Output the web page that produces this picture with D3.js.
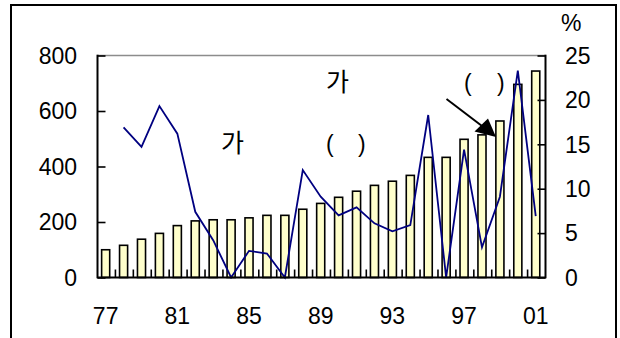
<!DOCTYPE html>
<html>
<head>
<meta charset="utf-8">
<script src="https://cdn.jsdelivr.net/npm/d3@7"></script>
<style>
  html, body { margin: 0; padding: 0; background: #fff; }
  svg { display: block; }
  text { font-family: "Liberation Sans", Arial, sans-serif; font-size: 23px; fill: #000; }
  .kr { font-family: "Noto Sans CJK KR", "Liberation Sans", sans-serif; font-size: 25px; }
</style>
</head>
<body>
<svg id="chart" width="620" height="338"></svg>
<script>
// Years (two-digit labels) and the two series
const years = ["77","78","79","80","81","82","83","84","85","86","87","88","89",
               "90","91","92","93","94","95","96","97","98","99","00","01"];
// Bar series, left axis
const amounts = [100,116,138,159,187,204,208,208,215,224,224,246,267,
                 289,311,332,347,368,433,433,498,514,564,696,744];
// Line series (growth rate, %), right axis; no value for the first year
const rates = [null,16.9,14.7,19.3,16.2,7.4,4.2,0,3.0,2.7,0,12.1,9.1,
               7.0,7.9,6.1,5.2,5.9,18.3,0,14.4,3.4,9.1,23.3,6.9];
const xTickLabels = ["77","81","85","89","93","97","01"];
const leftTicks = [0,200,400,600,800];
const rightTicks = [0,5,10,15,20,25];

const svg = d3.select("#chart");
const L = 97.5, R = 545.5, T = 55.5, B = 277.5;

// outer frame
svg.append("rect")
  .attr("x", 11).attr("y", 5).attr("width", 605).attr("height", 345)
  .attr("fill", "none").attr("stroke", "#000").attr("stroke-width", 2);

const x = d3.scaleBand().domain(years).range([L, R]).paddingInner(0.55).paddingOuter(0.275);
const yL = d3.scaleLinear().domain([0, 800]).range([B, T]);
const yR = d3.scaleLinear().domain([0, 25]).range([B, T]);

// top gridline
svg.append("line")
  .attr("x1", L).attr("x2", R).attr("y1", yL(800)).attr("y2", yL(800))
  .attr("stroke", "#8c8c8c").attr("stroke-width", 1.5);

// bars
svg.append("g").selectAll("rect")
  .data(years.map((y, i) => ({ year: y, v: amounts[i] })))
  .join("rect")
  .attr("x", d => x(d.year) - 0.8)
  .attr("y", d => yL(d.v))
  .attr("width", x.bandwidth())
  .attr("height", d => B - yL(d.v))
  .attr("fill", "#ffffcc")
  .attr("stroke", "#000")
  .attr("stroke-width", 1.6);

// growth-rate line
const lineData = years.map((y, i) => ({ year: y, v: rates[i] })).filter(d => d.v !== null);
svg.append("path")
  .datum(lineData)
  .attr("fill", "none")
  .attr("stroke", "#000080")
  .attr("stroke-width", 1.8)
  .attr("stroke-linejoin", "miter")
  .attr("d", d3.line().x(d => x(d.year) + x.bandwidth() / 2 - 0.8).y(d => yR(d.v)));

// left axis
const axL = svg.append("g").attr("transform", `translate(${L},0)`)
  .call(d3.axisRight(yL).tickValues(leftTicks).tickSize(8).tickFormat(""));
axL.select(".domain").remove();
axL.selectAll("line").attr("stroke", "#000").attr("stroke-width", 1.6);
svg.append("line").attr("x1", L).attr("x2", L).attr("y1", T - 0.8).attr("y2", B + 0.8)
  .attr("stroke", "#000").attr("stroke-width", 2);
svg.append("g").selectAll("text").data(leftTicks).join("text")
  .attr("x", 77).attr("y", d => yL(d)).attr("dy", "0.36em")
  .attr("text-anchor", "end").text(d => d);

// right axis
const axR = svg.append("g").attr("transform", `translate(${R},0)`)
  .call(d3.axisLeft(yR).tickValues(rightTicks).tickSize(8).tickFormat(""));
axR.select(".domain").remove();
axR.selectAll("line").attr("stroke", "#000").attr("stroke-width", 1.6);
svg.append("line").attr("x1", R).attr("x2", R).attr("y1", T - 0.8).attr("y2", B + 0.8)
  .attr("stroke", "#000").attr("stroke-width", 2);
svg.append("g").selectAll("text").data(rightTicks).join("text")
  .attr("x", 565).attr("y", d => yR(d)).attr("dy", "0.36em")
  .attr("text-anchor", "start").text(d => d);
svg.append("text").attr("x", 561).attr("y", 31).text("%");

// bottom axis with ticks at category boundaries
const step = x.step();
svg.append("g").selectAll("line").data(years.slice(1)).join("line")
  .attr("x1", d => x(d) - (step - x.bandwidth()) / 2)
  .attr("x2", d => x(d) - (step - x.bandwidth()) / 2)
  .attr("y1", B).attr("y2", B - 8)
  .attr("stroke", "#000").attr("stroke-width", 1.6);
svg.append("line").attr("x1", L).attr("x2", R).attr("y1", B).attr("y2", B)
  .attr("stroke", "#000").attr("stroke-width", 2);
svg.append("g").selectAll("text").data(xTickLabels).join("text")
  .attr("x", d => x(d) + x.bandwidth() / 2 - 0.8).attr("y", 324)
  .attr("text-anchor", "middle").text(d => d);

// annotations
svg.append("text").attr("class", "kr").attr("x", 221).attr("y", 152).text("가");
svg.append("text").attr("x", 326).attr("y", 152).text("(");
svg.append("text").attr("x", 358).attr("y", 152).text(")");
svg.append("text").attr("class", "kr").attr("x", 326).attr("y", 91).text("가");
svg.append("text").attr("x", 464).attr("y", 91).text("(");
svg.append("text").attr("x", 497).attr("y", 91).text(")");

// arrow
svg.append("line").attr("x1", 446.5).attr("y1", 99).attr("x2", 482).attr("y2", 126)
  .attr("stroke", "#000").attr("stroke-width", 2);
svg.append("polygon").attr("points", "496,137 474.5,131.5 488,118.5").attr("fill", "#000");
</script>
</body>
</html>
